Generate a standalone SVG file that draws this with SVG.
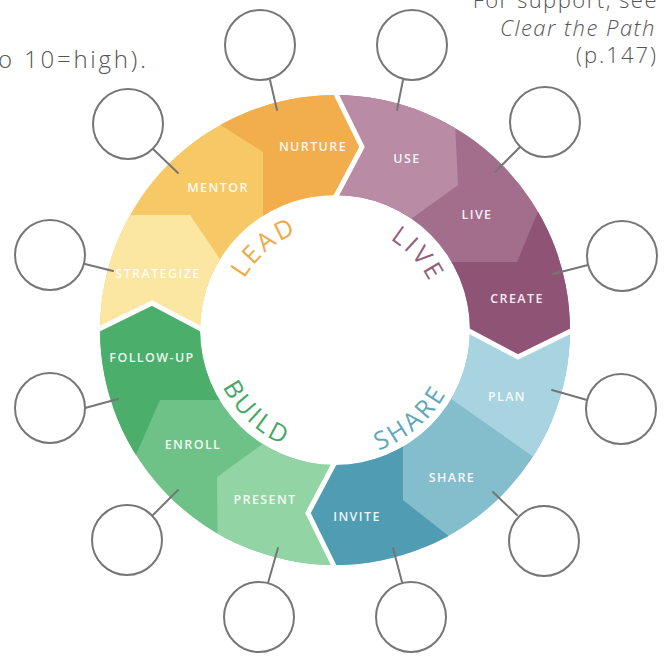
<svg xmlns="http://www.w3.org/2000/svg" width="668" height="656" viewBox="0 0 668 656">
  <style>
    .seg { font-family: "Open Sans", "Liberation Sans", sans-serif; font-size: 12.5px; font-weight: 600; letter-spacing: 1.4px; fill: #ffffff; fill-opacity: 0.92; text-anchor: middle; }
    .quad { font-family: "Open Sans", "Liberation Sans", sans-serif; font-size: 25px; font-weight: 400; letter-spacing: 3px; text-anchor: middle; }
    .note { font-family: "Open Sans", "Liberation Sans", sans-serif; font-size: 22px; font-weight: 300; fill: #555555; letter-spacing: 1.5px; }
    .bubble { fill: #ffffff; stroke: #767676; stroke-width: 2; }
    .conn line { stroke: #767676; stroke-width: 2; stroke-linecap: round; }
    .gap { fill: none; stroke: #ffffff; stroke-width: 5; stroke-linejoin: miter; }
  </style>
  <defs>
    <path id="qLead" d="M100,330 A235,235 0 0 1 335,95 L362,147 L335,195 A135,135 0 0 0 200,330 L152,303 Z"/>
    <path id="qLive" d="M335,95 A235,235 0 0 1 570,330 L518,357 L470,330 A135,135 0 0 0 335,195 L362,147 Z"/>
    <path id="qShare" d="M570,330 A235,235 0 0 1 335,565 L308,513 L335,465 A135,135 0 0 0 470,330 L518,357 Z"/>
    <path id="qBuild" d="M335,565 A235,235 0 0 1 100,330 L152,303 L200,330 A135,135 0 0 0 335,465 L308,513 Z"/>
    <clipPath id="cLead"><use href="#qLead"/></clipPath>
    <clipPath id="cLive"><use href="#qLive"/></clipPath>
    <clipPath id="cShare"><use href="#qShare"/></clipPath>
    <clipPath id="cBuild"><use href="#qBuild"/></clipPath>
    <path id="tLead" d="M231,330 A104,104 0 0 1 335,226"/>
    <path id="tLive" d="M335,224 A106,106 0 0 1 441,330"/>
    <path id="tBuild" d="M209,330 A126,126 0 0 0 335,456"/>
    <path id="tShare" d="M335,458 A128,128 0 0 0 463,330"/>
  </defs>

  <!-- top notes -->
  <text class="note" x="-2" y="68" style="font-size:24px;letter-spacing:2.8px">o 10=high).</text>
  <text class="note" x="658" y="8" text-anchor="end">For support, see</text>
  <text class="note" x="656" y="36" text-anchor="end" font-style="italic">Clear the Path</text>
  <text class="note" x="658" y="63" text-anchor="end" style="letter-spacing:2px">(p.147)</text>

  <!-- LEAD quadrant -->
  <g id="lead">
    <use href="#qLead" fill="#F6C866"/>
    <g clip-path="url(#cLead)">
      <polygon points="60,215 190,215 222,262 230,345 60,345" fill="#FBE6A2"/>
      <polygon points="200,112 263,152 263,232 380,232 380,60 200,60" fill="#F2AE4D"/>
    </g>
  </g>
  <!-- LIVE quadrant -->
  <g id="live">
    <use href="#qLive" fill="#A26E8C"/>
    <g clip-path="url(#cLive)">
      <polygon points="453,80 458,185 400,227 320,227 320,80" fill="#B98BA4"/>
      <polygon points="550,183 517,262 440,262 440,370 600,370 600,183" fill="#8F5376"/>
    </g>
  </g>
  <!-- SHARE quadrant -->
  <g id="share">
    <use href="#qShare" fill="#84BECD"/>
    <g clip-path="url(#cShare)">
      <polygon points="430,384 545,465 620,465 620,300 430,300" fill="#A7D4E0"/>
      <polygon points="403,430 403,500 465,549 465,600 290,600 290,430" fill="#4F9CB3"/>
    </g>
  </g>
  <!-- BUILD quadrant -->
  <g id="build">
    <use href="#qBuild" fill="#6EC288"/>
    <g clip-path="url(#cBuild)">
      <polygon points="275,435 217,477 218,590 350,590 350,435" fill="#93D4A5"/>
      <polygon points="230,400 160,400 125,480 80,480 80,280 230,280" fill="#4CAE6B"/>
    </g>
  </g>

  <!-- white gaps between quadrants -->
  <g id="gaps">
    <polyline class="gap" points="335,92 362,147 335,198"/>
    <polyline class="gap" points="573,330 518,357 467,330"/>
    <polyline class="gap" points="335,568 308,513 335,462"/>
    <polyline class="gap" points="97,330 152,303 203,330"/>
  </g>

  <!-- quadrant titles -->
  <text class="quad" fill="#F0A843"><textPath href="#tLead" startOffset="55%">LEAD</textPath></text>
  <text class="quad" fill="#925F7E"><textPath href="#tLive" startOffset="53%">LIVE</textPath></text>
  <text class="quad" fill="#45A864"><textPath href="#tBuild" startOffset="52%">BUILD</textPath></text>
  <text class="quad" fill="#5EA8BC"><textPath href="#tShare" startOffset="45%">SHARE</textPath></text>

  <!-- segment labels -->
  <g id="labels">
    <text class="seg" x="313" y="151">NURTURE</text>
    <text class="seg" x="218" y="192">MENTOR</text>
    <text class="seg" x="158" y="278">STRATEGIZE</text>
    <text class="seg" x="407" y="163">USE</text>
    <text class="seg" x="477" y="219">LIVE</text>
    <text class="seg" x="517" y="303">CREATE</text>
    <text class="seg" x="507" y="401">PLAN</text>
    <text class="seg" x="452" y="482">SHARE</text>
    <text class="seg" x="357" y="521">INVITE</text>
    <text class="seg" x="265" y="504">PRESENT</text>
    <text class="seg" x="193" y="449">ENROLL</text>
    <text class="seg" x="152" y="362">FOLLOW-UP</text>
  </g>

  <!-- connectors -->
  <g id="connectors" class="conn">
    <line x1="270" y1="80" x2="277" y2="110"/>
    <line x1="403" y1="80" x2="397" y2="110"/>
    <line x1="152" y1="148" x2="178" y2="173"/>
    <line x1="85" y1="264" x2="113" y2="271"/>
    <line x1="85" y1="408" x2="118" y2="399"/>
    <line x1="153" y1="515" x2="178" y2="490"/>
    <line x1="268" y1="583" x2="278" y2="548"/>
    <line x1="402" y1="582" x2="393" y2="548"/>
    <line x1="517" y1="515" x2="493" y2="492"/>
    <line x1="587" y1="400" x2="552" y2="390"/>
    <line x1="588" y1="265" x2="553" y2="274"/>
    <line x1="520" y1="147" x2="495" y2="172"/>
  </g>

  <!-- empty bubbles -->
  <g id="b-nurture"><circle class="bubble" cx="260" cy="45" r="35"/></g>
  <g id="b-use"><circle class="bubble" cx="412" cy="45" r="35"/></g>
  <g id="b-mentor"><circle class="bubble" cx="128" cy="124" r="35"/></g>
  <g id="b-strategize"><circle class="bubble" cx="50" cy="255" r="35"/></g>
  <g id="b-followup"><circle class="bubble" cx="50" cy="408" r="35"/></g>
  <g id="b-enroll"><circle class="bubble" cx="127" cy="540" r="35"/></g>
  <g id="b-present"><circle class="bubble" cx="259" cy="617" r="35"/></g>
  <g id="b-invite"><circle class="bubble" cx="411" cy="617" r="35"/></g>
  <g id="b-share"><circle class="bubble" cx="544" cy="541" r="35"/></g>
  <g id="b-plan"><circle class="bubble" cx="621" cy="409" r="35"/></g>
  <g id="b-create"><circle class="bubble" cx="622" cy="256" r="35"/></g>
  <g id="b-live"><circle class="bubble" cx="545" cy="122" r="35"/></g>
</svg>
